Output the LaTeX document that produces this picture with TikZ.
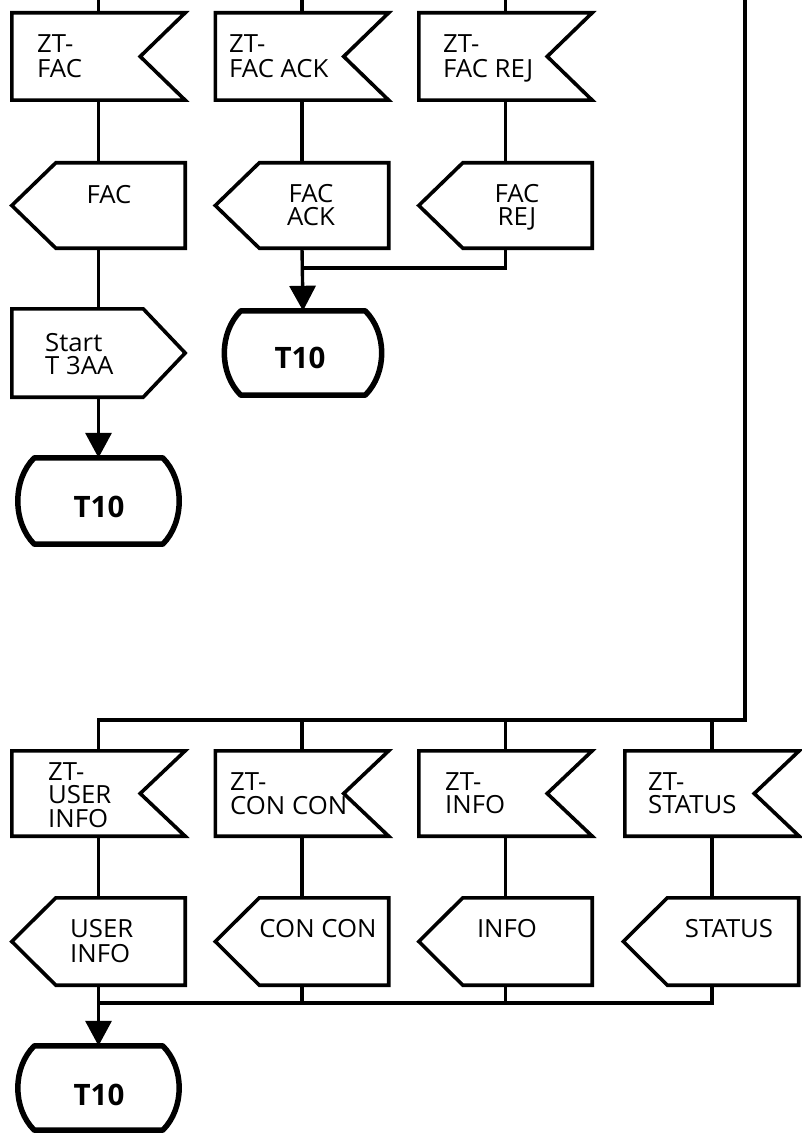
\documentclass[tikz,border=0pt]{standalone}
\usepackage{fontspec}
\setmainfont{Open Sans}
\newfontfamily\lblfont{Open Sans}[FakeStretch=1.03]
\usetikzlibrary{arrows.meta}
\newcommand\rcvshape[1]{\draw[outl] (#1.north west) -- (#1.north east) -- ([xshift=-45pt]#1.east) -- (#1.south east) -- (#1.south west) -- cycle;}
\newcommand\sndshape[1]{\draw[outl] (#1.west) -- ([xshift=44pt]#1.north west) -- (#1.north east) -- (#1.south east) -- ([xshift=44pt]#1.south west) -- cycle;}
\newcommand\startshape[1]{\draw[outl] (#1.north west) -- ([xshift=-42pt]#1.north east) -- (#1.east) -- ([xshift=-42pt]#1.south east) -- (#1.south west) -- cycle;}
\newcommand\termshape[1]{\draw[term] ([xshift=18pt]#1.north west) -- ([xshift=-18pt]#1.north east)
  .. controls ([xshift=4pt,yshift=-22pt]#1.north east) and ([xshift=4pt,yshift=22pt]#1.south east) .. ([xshift=-18pt]#1.south east)
  -- ([xshift=18pt]#1.south west)
  .. controls ([xshift=-4pt,yshift=22pt]#1.south west) and ([xshift=-4pt,yshift=-22pt]#1.north west) .. ([xshift=18pt]#1.north west) -- cycle;}
\newcommand\lbl[4]{\node[txt,anchor=base west] (#1) at (#2,#3) {#4};}
\newcommand\lblc[4]{\node[txt,anchor=base] (#1) at (#2,#3) {#4};}
\begin{document}
\begin{tikzpicture}[x=1pt,y=-1pt,
  frame/.style={draw=none,inner sep=0pt,rectangle,minimum width=173pt},
  outl/.style={line width=3.6pt,line join=miter},
  term/.style={line width=5.5pt,line join=round},
  conn/.style={line width=3.4pt},
  arr/.style={conn,-{Triangle[width=26pt,length=25pt]}},
  txt/.style={inner sep=0pt,font=\lblfont\fontsize{25}{25}\selectfont},
  ttxt/.style={inner sep=0pt,font=\fontsize{29.5}{29.5}\selectfont\bfseries}]
\useasboundingbox (0,0) rectangle (801,1142);

% ---- top section nodes
\node[frame,minimum height=87pt] (in1) at (98.5,56.5) {};
\node[frame,minimum height=87pt] (in2) at (302,56.5) {};
\node[frame,minimum height=87pt] (in3) at (505.5,56.5) {};
\node[frame,minimum height=85pt] (out1) at (98.5,205.5) {};
\node[frame,minimum height=85pt] (out2) at (302,205.5) {};
\node[frame,minimum height=85pt] (out3) at (505.5,205.5) {};
\node[frame,minimum height=88pt] (st1) at (98.5,353) {};
\node[frame,minimum width=164pt,minimum height=86pt] (ta) at (98.5,501) {};
\node[frame,minimum width=160pt,minimum height=84pt] (tb) at (303,353) {};

\rcvshape{in1}\rcvshape{in2}\rcvshape{in3}
\sndshape{out1}\sndshape{out2}\sndshape{out3}
\startshape{st1}
\termshape{ta}\termshape{tb}

\coordinate (c1) at (98.5,0);
\coordinate (c2) at (302,0);
\coordinate (c3) at (505.5,0);
\coordinate (j2) at (302,268);
\draw[conn] (c1) -- (in1.north);
\draw[conn] (c2) -- (in2.north);
\draw[conn] (c3) -- (in3.north);
\draw[conn] (in1.south) -- (out1.north);
\draw[conn] (in2.south) -- (out2.north);
\draw[conn] (in3.south) -- (out3.north);
\draw[conn] (out1.south) -- (st1.north);
\draw[arr] (st1.south) -- (ta.north);
\draw[arr] (out2.south) -- (tb.north);
\draw[conn] (out3.south) |- (j2);

% ---- texts top
\lbl{a1}{37}{53}{ZT-}\lbl{a2}{37}{78}{FAC}
\lbl{b1}{229}{53}{ZT-}\lbl{b2}{229}{78}{FAC ACK}
\lbl{d1}{443}{53}{ZT-}\lbl{d2}{443}{78}{FAC REJ}
\lblc{e1}{109}{203}{FAC}
\lblc{f1}{311}{202}{FAC}\lblc{f2}{311}{225}{ACK}
\lblc{g1}{517}{202}{FAC}\lblc{g2}{517}{225}{REJ}
\lbl{h1}{45}{351}{Start}\lbl{h2}{45}{374}{T 3AA}
\node[ttxt,anchor=base] (ta1) at (99,517) {T10};
\node[ttxt,anchor=base] (tb1) at (300,368) {T10};

% ---- bottom section nodes
\node[frame,minimum height=85pt] (bin1) at (98.5,793.5) {};
\node[frame,minimum height=85pt] (bin2) at (302,793.5) {};
\node[frame,minimum height=85pt] (bin3) at (505.5,793.5) {};
\node[frame,minimum width=174pt,minimum height=85pt] (bin4) at (712,793.5) {};
\node[frame,minimum height=87pt] (bout1) at (98.5,941.5) {};
\node[frame,minimum height=87pt] (bout2) at (302,941.5) {};
\node[frame,minimum height=87pt] (bout3) at (505.5,941.5) {};
\node[frame,minimum width=175pt,minimum height=87pt] (bout4) at (711,941.5) {};
\node[frame,minimum width=164pt,minimum height=84pt] (tc) at (98.5,1088) {};

\rcvshape{bin1}\rcvshape{bin2}\rcvshape{bin3}\rcvshape{bin4}
\sndshape{bout1}\sndshape{bout2}\sndshape{bout3}\sndshape{bout4}
\termshape{tc}

\coordinate (rt) at (745,0);
\coordinate (bus) at (98.5,720);
\coordinate (mrg) at (98.5,1003);
\draw[conn] (rt) |- (bus) -- (bin1.north);
\draw[conn] (bin2.north) -- (bin2.north |- bus);
\draw[conn] (bin3.north) -- (bin3.north |- bus);
\draw[conn] (bin4.north) -- (bin4.north |- bus);
\draw[conn] (bin1.south) -- (bout1.north);
\draw[conn] (bin2.south) -- (bout2.north);
\draw[conn] (bin3.south) -- (bout3.north);
\draw[conn] (bin4.south) -- (bin4.south |- bout4.north);
\draw[arr] (bout1.south) -- (tc.north);
\draw[conn] (bout2.south) -- (bout2.south |- mrg);
\draw[conn] (bout3.south) -- (bout3.south |- mrg);
\draw[conn] (bin4.south |- bout4.south) |- (mrg);

% ---- texts bottom
\lbl{k1}{48}{780}{ZT-}\lbl{k2}{48}{803}{USER}\lbl{k3}{48}{827}{INFO}
\lbl{l1}{230}{790}{ZT-}\lbl{l2}{230}{814}{CON CON}
\lbl{m1}{445}{790}{ZT-}\lbl{m2}{445}{813}{INFO}
\lbl{n1}{648}{790}{ZT-}\lbl{n2}{648}{813}{STATUS}
\lbl{p1}{70}{937}{USER}\lbl{p2}{70}{962}{INFO}
\lblc{q1}{318}{937}{CON CON}
\lblc{r1}{507}{937}{INFO}
\lblc{s1}{729}{937}{STATUS}
\node[ttxt,anchor=base] (tc1) at (99,1105) {T10};
\end{tikzpicture}
\end{document}
